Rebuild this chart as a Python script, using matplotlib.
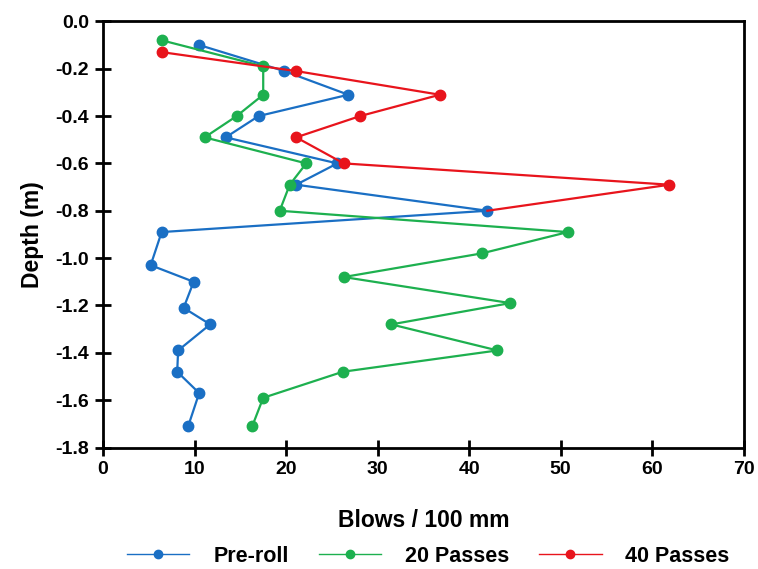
import matplotlib
matplotlib.use("Agg")
import matplotlib.pyplot as plt
from matplotlib.lines import Line2D

# Data (Blows / 100 mm vs Depth in m)
pre_blows = [10.5, 19.8, 26.8, 17.0, 13.4, 25.6, 21.1, 42.0, 6.4, 5.2, 9.9, 8.8, 11.7, 8.2, 8.1, 10.5, 9.3]
pre_depth = [-0.10, -0.21, -0.31, -0.40, -0.49, -0.60, -0.69, -0.80, -0.89, -1.03, -1.10, -1.21, -1.28, -1.39, -1.48, -1.57, -1.71]

p20_blows = [6.4, 17.5, 17.5, 14.6, 11.1, 22.2, 20.4, 19.3, 50.8, 41.4, 26.3, 44.5, 31.5, 43.1, 26.2, 17.5, 16.3]
p20_depth = [-0.08, -0.19, -0.31, -0.40, -0.49, -0.60, -0.69, -0.80, -0.89, -0.98, -1.08, -1.19, -1.28, -1.39, -1.48, -1.59, -1.71]

p40_blows = [6.4, 21.1, 36.8, 28.1, 21.1, 26.3, 61.9, 42.0]
p40_depth = [-0.13, -0.21, -0.31, -0.40, -0.49, -0.60, -0.69, -0.80]

labels = ["Pre-roll", "20 Passes", "40 Passes"]
xticks = [0, 10, 20, 30, 40, 50, 60, 70]
yticks = [0.0, -0.2, -0.4, -0.6, -0.8, -1.0, -1.2, -1.4, -1.6, -1.8]

plt.rcParams['font.family'] = ['Liberation Sans', 'DejaVu Sans']
plt.rcParams['font.weight'] = 'bold'

fig = plt.figure(figsize=(7.58, 5.69), dpi=100)
ax = fig.add_axes([0.136, 0.2135, 0.845, 0.749])

c_blue = '#1a6fc4'
c_green = '#1db04f'
c_red = '#e8141c'
colors = [c_blue, c_green, c_red]

ax.plot(p40_blows, p40_depth, '-o', color=c_red, lw=1.6, ms=7.5,
        markevery=list(range(len(p40_blows) - 1)), zorder=3)
ax.plot(pre_blows, pre_depth, '-o', color=c_blue, lw=1.6, ms=7.5, zorder=2)
ax.plot(p20_blows, p20_depth, '-o', color=c_green, lw=1.6, ms=7.5, zorder=2.5)

ax.set_xlim(0, 70)
ax.set_ylim(-1.8, 0.0)
ax.set_xticks(xticks)
ax.set_yticks(yticks)
ax.set_yticklabels([f"{v:.1f}" for v in yticks])
ax.tick_params(direction='inout', length=12, width=2, labelsize=14, pad=4)
for s in ax.spines.values():
    s.set_linewidth(2)

ax.set_xlabel("Blows / 100 mm", fontsize=16.5, fontweight='bold', labelpad=22)
ax.set_ylabel("Depth (m)", fontsize=16.5, fontweight='bold', labelpad=8)

handles = [Line2D([], [], color=c, lw=1.0, marker='o', ms=6) for c in colors]
fig.legend(handles, labels,
           loc='center', bbox_to_anchor=(0.565, 0.022), ncol=3, frameon=False,
           fontsize=15.5, handlelength=2.9, columnspacing=1.4, handletextpad=1.1)

fig.savefig("out.png", dpi=100)
